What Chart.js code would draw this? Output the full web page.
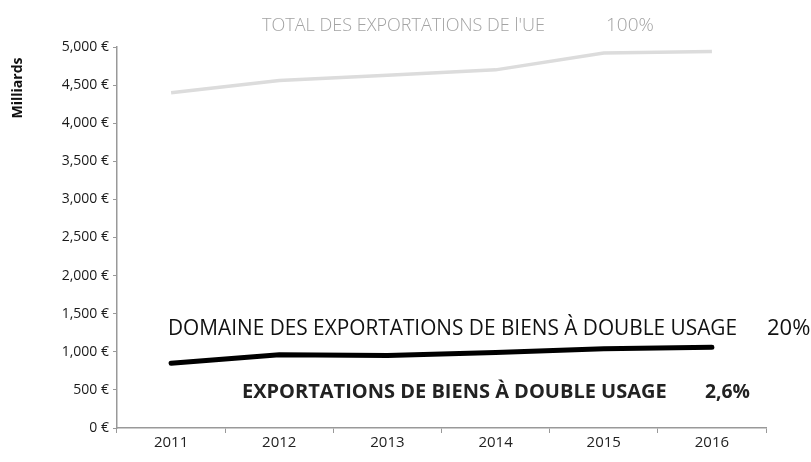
<!DOCTYPE html>
<html>
<head>
<meta charset="utf-8">
<script src="https://cdn.jsdelivr.net/npm/chart.js@4"></script>
<style>
  html,body{margin:0;padding:0;background:#fff}
  #wrap{width:811px;height:462px;position:relative}
</style>
</head>
<body>
<div id="wrap"><canvas id="chart" width="811" height="462"></canvas></div>
<script>
// années
const years = ['2011','2012','2013','2014','2015','2016'];
// total des exportations de l'UE (milliards €)
const totalUE = [4400, 4560, 4630, 4700, 4920, 4940];
// domaine des exportations de biens à double usage (milliards €)
const domaineDouble = [850, 960, 950, 990, 1040, 1060];
const yTicks = [0, 500, 1000, 1500, 2000, 2500, 3000, 3500, 4000, 4500, 5000];

const fmtEuro = v => v.toLocaleString('en-US') + ' €';

// textes posés sur le graphique
const labelsPlugin = {
  id: 'labels',
  afterDraw(chart){
    const c = chart.ctx;
    c.save();
    c.textBaseline = 'alphabetic';
    c.textAlign = 'left';
    // titre gris
    c.fillStyle = '#a3a3a3';
    c.font = '300 19px "Open Sans", Lato, sans-serif';
    c.fillText("TOTAL DES EXPORTATIONS DE l'UE", 262, 31, 283);
    c.fillText('100%', 606, 31, 54);
    // domaine
    c.fillStyle = '#111';
    c.font = '22px "Open Sans", sans-serif';
    c.fillText('DOMAINE DES EXPORTATIONS DE BIENS À DOUBLE USAGE', 168, 335, 569);
    c.fillText('20%', 767, 335, 44);
    // exportations
    c.fillStyle = '#222';
    c.font = 'bold 20px "Open Sans", sans-serif';
    c.fillText('EXPORTATIONS DE BIENS À DOUBLE USAGE', 242, 398, 431);
    c.fillText('2,6%', 705, 398, 45);
    // titre de l'axe y, en haut
    c.translate(18, 88);
    c.rotate(-Math.PI / 2);
    c.textAlign = 'center';
    c.textBaseline = 'middle';
    c.fillStyle = '#111';
    c.font = 'bold 14px "Open Sans", sans-serif';
    c.fillText('Milliards', 0, 0, 62);
    c.restore();
  }
};

new Chart(document.getElementById('chart'), {
  type: 'line',
  data: {
    labels: years,
    datasets: [
      { label: 'Total UE', data: totalUE, borderColor: '#dcdcdc', borderWidth: 3.5, pointRadius: 0, tension: 0 },
      { label: 'Domaine double usage', data: domaineDouble, borderColor: '#000', borderWidth: 5, pointRadius: 0, tension: 0, borderCapStyle: 'round' }
    ]
  },
  options: {
    responsive: false,
    animation: false,
    layout: { padding: { top: 47, right: 45, left: 0, bottom: 0 } },
    plugins: { legend: { display: false }, tooltip: { enabled: false } },
    scales: {
      x: {
        offset: true,
        grid: { offset: true, drawOnChartArea: false, tickLength: 5, color: '#999' },
        border: { color: '#999', width: 1.5 },
        ticks: { color: '#222', font: { size: 15, family: '"Open Sans", sans-serif' }, padding: 1, maxRotation: 0 },
        afterFit(s){ s.height = 34; }
      },
      y: {
        min: 0, max: 5000,
        afterBuildTicks(s){ s.ticks = yTicks.map(v => ({ value: v })); },
        grid: { drawOnChartArea: false, tickLength: 4, color: '#999' },
        border: { color: '#999', width: 1.5 },
        ticks: { color: '#1a1a1a', font: { size: 14, family: '"Open Sans", sans-serif' }, padding: 4, callback: v => fmtEuro(v) },
        afterFit(s){ s.width = 117; }
      }
    }
  },
  plugins: [labelsPlugin]
});
</script>
</body>
</html>
